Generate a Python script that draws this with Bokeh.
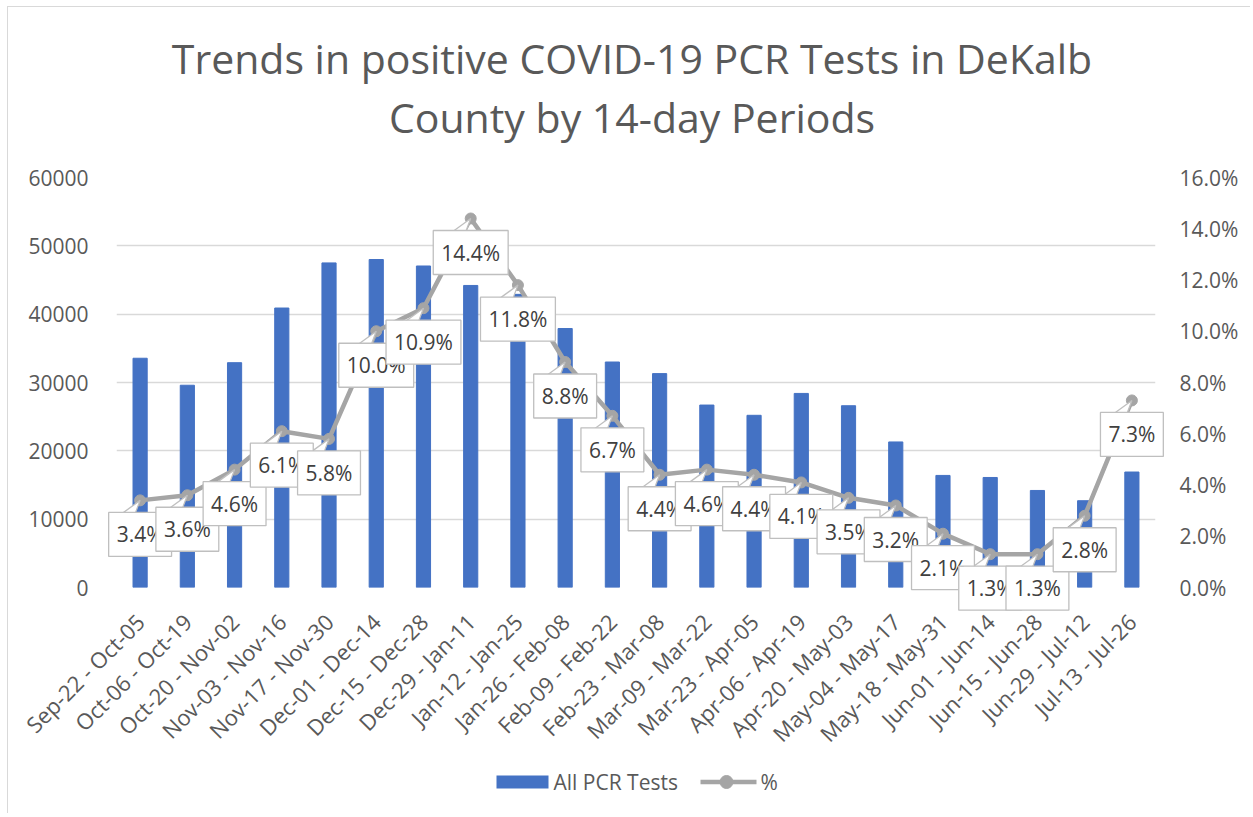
from bokeh.plotting import figure
from bokeh.models import (Range1d, LinearAxis, FixedTicker, NumeralTickFormatter,
                          ColumnDataSource)
from bokeh.core.properties import value
from bokeh.embed import file_html
from bokeh.resources import INLINE
import math

# ---------------- data ----------------
periods = ["Sep-22 - Oct-05", "Oct-06 - Oct-19", "Oct-20 - Nov-02", "Nov-03 - Nov-16",
           "Nov-17 - Nov-30", "Dec-01 - Dec-14", "Dec-15 - Dec-28", "Dec-29 - Jan-11",
           "Jan-12 - Jan-25", "Jan-26 - Feb-08", "Feb-09 - Feb-22", "Feb-23 - Mar-08",
           "Mar-09 - Mar-22", "Mar-23 - Apr-05", "Apr-06 - Apr-19", "Apr-20 - May-03",
           "May-04 - May-17", "May-18 - May-31", "Jun-01 - Jun-14", "Jun-15 - Jun-28",
           "Jun-29 - Jul-12", "Jul-13 - Jul-26"]
pcr_tests = [33550, 29600, 32900, 40900, 47500, 48000, 47050, 44200, 42900, 37900, 33000,
             31300, 26700, 25200, 28400, 26600, 21300, 16400, 16100, 14200, 12700, 16900]
pct_positive = [3.4, 3.6, 4.6, 6.1, 5.8, 10.0, 10.9, 14.4, 11.8, 8.8, 6.7,
                4.4, 4.6, 4.4, 4.1, 3.5, 3.2, 2.1, 1.3, 1.3, 2.8, 7.3]
left_ticks = [0, 10000, 20000, 30000, 40000, 50000, 60000]
right_ticks = [0.0, 0.02, 0.04, 0.06, 0.08, 0.10, 0.12, 0.14, 0.16]
title_lines = ["Trends in positive COVID-19 PCR Tests in DeKalb", "County by 14-day Periods"]
bar_label = "All PCR Tests"
line_label = "%"

# ---------------- styles ----------------
FONT = "Open Sans"
TXT = "#595959"
BLUE = "#4472C4"
GREY = "#A5A5A5"
GRID = "#D9D9D9"

FRAME_W, FRAME_H = 1039, 410
ML, MR, MT, MB = 108, 95, 170, 226
Y_MAX = 60000
n = len(periods)
px_x = n / FRAME_W          # data units per pixel (x)
px_left = Y_MAX / FRAME_H   # data units per pixel (left y)
px_pct = 0.16 / FRAME_H     # data units per pixel (right y)


def sx(dx):
    """x data coordinate of a point dx pixels right of the frame's left edge"""
    return -0.5 + dx * px_x


def sy(dy):
    """left-axis data coordinate of a point dy pixels above the frame's bottom"""
    return dy * px_left


xs = list(range(n))
fracs = [v / 100.0 for v in pct_positive]

p = figure(frame_width=FRAME_W, frame_height=FRAME_H, output_backend="svg",
           toolbar_location=None, title=None,
           x_range=Range1d(-0.5, n - 0.5), y_range=Range1d(0, Y_MAX),
           min_border_left=ML, min_border_right=MR, min_border_top=MT, min_border_bottom=MB)
p.outline_line_color = None
p.background_fill_color = "white"
p.border_fill_color = "white"
p.extra_y_ranges = {"pct": Range1d(0, 0.16)}

# axes
p.xaxis.ticker = FixedTicker(ticks=xs)
p.xaxis.major_label_overrides = {i: lab for i, lab in enumerate(periods)}
p.xaxis.major_label_orientation = math.pi / 4
p.xaxis.major_label_standoff = 24
for ax in [p.xaxis[0], p.yaxis[0]]:
    ax.axis_line_color = None
    ax.major_tick_line_color = None
    ax.minor_tick_line_color = None
    ax.major_label_text_font = FONT
    ax.major_label_text_color = TXT
p.xaxis.major_label_text_font_size = "22px"
p.yaxis.major_label_text_font_size = "21px"
p.yaxis.ticker = FixedTicker(ticks=left_ticks)
p.yaxis.major_label_standoff = 22

ry = LinearAxis(y_range_name="pct", ticker=FixedTicker(ticks=right_ticks),
                formatter=NumeralTickFormatter(format="0.0%"))
ry.axis_line_color = None
ry.major_tick_line_color = None
ry.minor_tick_line_color = None
ry.major_label_text_font = FONT
ry.major_label_text_font_size = "21px"
ry.major_label_text_color = TXT
ry.major_label_standoff = 18
p.add_layout(ry, "right")

p.xgrid.grid_line_color = None
p.ygrid.ticker = FixedTicker(ticks=left_ticks)
p.ygrid.grid_line_color = GRID
p.ygrid.grid_line_width = 1.5

src = ColumnDataSource(dict(x=xs, tests=pcr_tests, pct=fracs,
                            lab=[f"{v:.1f}%" for v in pct_positive]))

bars = p.vbar(x="x", top="tests", width=0.30, source=src, color=BLUE)
line = p.line(x="x", y="pct", source=src, y_range_name="pct", line_color=GREY, line_width=4.5)
dots = p.scatter(x="x", y="pct", source=src, y_range_name="pct", size=11,
                 fill_color=GREY, line_color=GREY)

# callout wedges (pointer from box to point)
wx, wy = [], []
for x, f in zip(xs, fracs):
    wx.append([x, x - 22 * px_x, x - 6 * px_x])
    wy.append([f, f - 16 * px_pct, f - 16 * px_pct])
wedges = p.patches(xs=wx, ys=wy, y_range_name="pct", fill_color="white",
                   line_color="#BFBFBF", line_width=1.3)
wedges.level = "overlay"

labels = p.text(x="x", y="pct", text="lab", source=src, y_range_name="pct",
                y_offset=34, text_align="center", text_baseline="middle",
                text_font=value(FONT), text_font_size="21px", text_color="#404040",
                background_fill_color="white", border_line_color="#BFBFBF",
                border_line_width=1.3, padding=8)
labels.level = "overlay"

# ---------------- title (overlay text, outside the frame) ----------------
title_r = p.text(x=[sx(515.5), sx(515.5)], y=[sy(FRAME_H + 120), sy(FRAME_H + 61)],
                 text=title_lines, text_align="center", text_baseline="alphabetic",
                 text_font=value(FONT), text_font_size="41px", text_color=TXT)
title_r.level = "overlay"

# ---------------- legend (below the axis labels) ----------------
LEG_Y = sy(-194.5)
leg_box = p.rect(x=[sx(406)], y=[LEG_Y], width=52, height=13,
                 width_units="screen", height_units="screen",
                 fill_color=BLUE, line_color=None)
leg_line = p.line(x=[sx(584), sx(640)], y=[LEG_Y, LEG_Y], line_color=GREY, line_width=4.5)
leg_dot = p.ellipse(x=[sx(610)], y=[LEG_Y], width=13, height=13,
                    width_units="screen", height_units="screen",
                    fill_color=GREY, line_color=GREY)
leg_txt = p.text(x=[sx(437), sx(644)], y=[LEG_Y, LEG_Y], text=[bar_label, line_label],
                 text_align="left", text_baseline="middle",
                 text_font=value(FONT), text_font_size="21px", text_color=TXT)
for r in (leg_box, leg_line, leg_dot, leg_txt):
    r.level = "overlay"

p.styles = {"margin-left": "7px", "margin-top": "6px",
            "border-left": "1px solid #D9D9D9", "border-top": "1px solid #D9D9D9"}

open("out.html", "w").write(file_html(p, INLINE))
